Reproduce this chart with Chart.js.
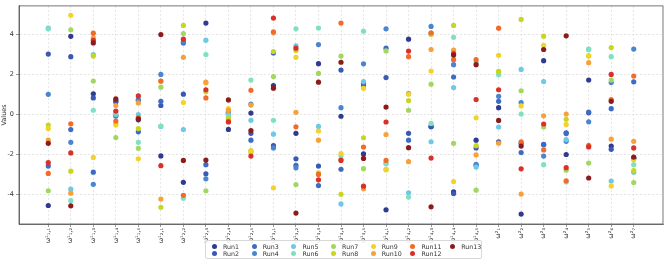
<!DOCTYPE html>
<html>
<head>
<meta charset="utf-8">
<script src="https://cdn.jsdelivr.net/npm/chart.js@4"></script>
<style>
  html, body { margin: 0; padding: 0; background: #fff; }
  #wrap { position: relative; width: 667px; height: 259px; }
  #legend {
    position: absolute; left: 205px; top: 240px; width: 277px; height: 19px;
    box-sizing: border-box; border: 1px solid #d8d8d8; border-radius: 2px;
    background: rgba(255,255,255,0.85);
    display: grid; grid-auto-flow: column; grid-template-rows: 7.3px 7.3px;
    grid-auto-columns: 39.7px; padding: 1.5px 0 0 6px;
    font-family: 'DejaVu Sans'; font-size: 6.3px; color: #333;
  }
  .item { display: flex; align-items: center; white-space: nowrap; }
  .dot { width: 5px; height: 5px; border-radius: 50%; margin-right: 6px; flex: none; }
</style>
</head>
<body>
<div id="wrap">
  <canvas id="chart" width="667" height="259"></canvas>
  <div id="legend"></div>
</div>
<script>
// categories (weights) along the x axis
var categories = [
  'ω¹₁,₁', 'ω¹₁,₂', 'ω¹₁,₃', 'ω¹₁,₄', 'ω¹₁,₅',
  'ω¹₂,₁', 'ω¹₂,₂', 'ω¹₂,₃', 'ω¹₂,₄', 'ω¹₂,₅',
  'ω¹₃,₁', 'ω¹₃,₂', 'ω¹₃,₃', 'ω¹₃,₄', 'ω¹₃,₅',
  'ω¹₄,₁', 'ω¹₄,₂', 'ω¹₄,₃', 'ω¹₄,₄', 'ω¹₄,₅',
  'ω²₁', 'ω²₂', 'ω²₃', 'ω²₄', 'ω²₅', 'ω²₆', 'ω²₇'
];
var yTicks = [-4, -2, 0, 2, 4];

var run1  = [-4.57, 3.92, 1.04, 0.68, -0.27, -2.08, -3.41, 4.59, -0.75, 0.07, 1.45, -0.95, 2.55, -0.09, -1.98, -4.79, 3.78, -0.60, -3.88, -1.29, 0.34, -5.0, 2.70, -2.01, 1.73, -1.59, -2.21];
var run2  = [3.03, 2.90, 0.83, 0.62, 0.70, 0.45, 1.02, -2.98, 0.05, -0.95, -1.57, -2.23, -2.59, 2.23, 1.57, 1.85, -0.95, -0.62, -3.97, -1.68, -1.37, -1.44, -1.50, -0.92, 0.08, -1.75, -2.20];
var run3  = [-2.59, -0.76, -2.90, -0.08, -0.87, 0.66, 3.59, -2.52, 0.10, -1.29, 3.09, -2.55, -3.57, -2.75, 1.47, 3.33, -1.29, 4.05, 1.88, -2.55, 0.66, -1.91, -1.52, -0.96, 0.12, 0.29, 1.64];
var run4  = [1.01, -1.40, -3.51, -0.04, 0.75, 2.01, 3.65, -3.23, 0.15, 0.52, -1.68, -2.68, 3.51, 0.34, 2.54, 4.30, 1.05, 4.42, 2.50, -2.50, 0.91, 0.60, -2.09, -1.35, -0.37, 1.60, 3.28];
var run5  = [4.33, -3.75, 3.01, 0.00, -0.01, -0.60, -0.76, 3.73, -0.01, -0.29, -0.99, 3.44, -0.60, -4.49, 1.65, -2.47, -3.93, -1.37, 1.35, -2.64, -0.63, 2.26, 1.65, -1.26, 3.28, -3.34, -2.90];
var run6  = [4.30, -4.33, 0.21, 0.11, -1.40, -0.58, -4.21, 3.01, -0.12, 1.73, -0.29, 4.30, 4.34, -2.06, 4.18, -2.45, -4.15, -0.45, 3.87, 2.62, 1.99, 0.02, -2.52, -3.39, 3.25, 2.90, -2.52];
var run7  = [-3.83, 4.25, 1.68, -1.16, -1.70, 1.37, 4.06, -3.83, -0.22, -1.90, 1.90, -3.52, 2.06, 2.93, -2.72, 3.19, 0.21, 1.52, -1.45, -3.80, 2.14, 1.19, -0.63, -2.80, -2.44, 1.73, -3.42];
var run8  = [-0.53, -2.85, 2.93, -0.45, -0.71, -4.66, 4.47, 1.14, -0.20, -1.81, 3.16, 3.21, -2.93, -4.01, -1.17, -2.78, 0.70, 4.01, 4.47, -1.57, 2.16, 4.77, 3.93, -0.24, 2.93, 3.36, -2.82];
var run9  = [-0.71, 4.98, -2.16, -0.53, -2.23, 1.66, 0.60, 1.58, 0.29, -1.85, -3.68, 2.87, -0.83, -1.96, 1.31, -2.75, 1.02, 2.18, -3.37, -0.17, 2.97, 0.43, 3.47, -0.50, 2.95, -3.59, -2.27];
var run10 = [-1.29, -3.95, 3.85, 0.45, 0.58, -4.25, 2.87, 1.62, 0.20, 0.47, 4.10, 0.11, -1.29, -2.25, -3.73, -1.01, -2.37, 3.26, 3.23, -2.03, -1.44, -4.00, -0.07, 0.02, 2.60, -1.24, -1.35];
var run11 = [-2.96, -0.47, 4.08, -0.33, -0.17, 1.68, -4.06, 0.83, -0.35, 1.21, 4.15, -0.62, -3.01, 4.59, -1.64, -2.31, 2.90, 4.10, 2.75, 2.75, 4.33, -1.37, -1.78, -3.33, -1.55, 0.75, 1.93];
var run12 = [-2.42, -1.93, 3.72, 0.17, 0.93, -2.57, 3.78, 1.24, -0.38, -2.09, 4.84, 3.33, -3.28, -2.31, -3.60, -0.38, 3.18, -2.19, 3.06, 0.75, 1.24, -2.73, -0.48, -2.67, -1.63, 2.01, -1.68];
var run13 = [-1.45, -4.59, 3.59, 0.78, -0.22, 4.01, -2.31, -2.29, 0.73, -0.81, 1.32, -4.95, 1.62, 2.62, -2.21, 0.37, -1.67, -4.64, 2.98, 2.50, -0.30, -1.59, 3.26, 3.95, -3.19, 0.66, -2.14];

var runNames = ['Run1', 'Run2', 'Run3', 'Run4', 'Run5', 'Run6', 'Run7', 'Run8', 'Run9', 'Run10', 'Run11', 'Run12', 'Run13'];
var runValues = [run1, run2, run3, run4, run5, run6, run7, run8, run9, run10, run11, run12, run13];
var colors = ['#2f3b8f', '#3a58b4', '#3d6cc4', '#4a86d0', '#6ec8e6', '#80e0c4', '#a3d860', '#c8d620',
              '#f4d22c', '#f6a13a', '#f26b2b', '#d9302a', '#8c1c1c'];

var font = { family: 'DejaVu Sans', size: 6.5 };

var datasets = runValues.map(function (vals, i) {
  return {
    label: runNames[i],
    data: vals.map(function (v, j) { return { x: j, y: v }; }),
    backgroundColor: colors[i],
    borderColor: colors[i],
    borderWidth: 0,
    pointRadius: 2.6,
    order: runValues.length - i
  };
});

// box around the plot area (top/right spines)
var frame = {
  id: 'frame',
  afterDatasetsDraw: function (chart) {
    var a = chart.chartArea, ctx = chart.ctx;
    ctx.save();
    ctx.strokeStyle = '#555';
    ctx.lineWidth = 0.8;
    ctx.strokeRect(a.left, a.top, a.right - a.left, a.bottom - a.top);
    ctx.restore();
  }
};

var ctx = document.getElementById('chart').getContext('2d');
var chart = new Chart(ctx, {
  type: 'scatter',
  data: { datasets: datasets },
  options: {
    responsive: false,
    animation: false,
    layout: { padding: { left: 0, right: 0, top: 1, bottom: 0 } },
    plugins: { legend: { display: false }, tooltip: { enabled: false } },
    scales: {
      x: {
        type: 'linear',
        min: -1.3,
        max: 27.3,
        afterBuildTicks: function (scale) {
          scale.ticks = categories.map(function (c, i) { return { value: i }; });
        },
        afterFit: function (scale) { scale.height = 35; },
        ticks: {
          autoSkip: false, minRotation: 90, maxRotation: 90, padding: 1,
          color: '#333', font: font,
          callback: function (v) { return categories[v]; }
        },
        grid: { color: '#d4d4d4', lineWidth: 0.6, tickLength: 3, tickColor: '#555' },
        border: { color: '#555', width: 0.8, dash: [2, 2] }
      },
      y: {
        min: -5.5,
        max: 5.45,
        afterBuildTicks: function (scale) {
          scale.ticks = yTicks.map(function (v) { return { value: v }; });
        },
        afterFit: function (scale) { scale.width = 19; },
        ticks: { color: '#333', font: font, padding: 2 },
        title: { display: true, text: 'Values', color: '#333', font: font, padding: 0 },
        grid: { color: '#d4d4d4', lineWidth: 0.6, tickLength: 3, tickColor: '#555' },
        border: { color: '#555', width: 0.8, dash: [2, 2] }
      }
    }
  },
  plugins: [frame]
});

// legend laid out in 7 columns, filled column by column
var legend = document.getElementById('legend');
runNames.forEach(function (name, i) {
  var item = document.createElement('div');
  item.className = 'item';
  var dot = document.createElement('span');
  dot.className = 'dot';
  dot.style.background = colors[i];
  var txt = document.createElement('span');
  txt.textContent = name;
  item.appendChild(dot);
  item.appendChild(txt);
  legend.appendChild(item);
});
</script>
</body>
</html>
